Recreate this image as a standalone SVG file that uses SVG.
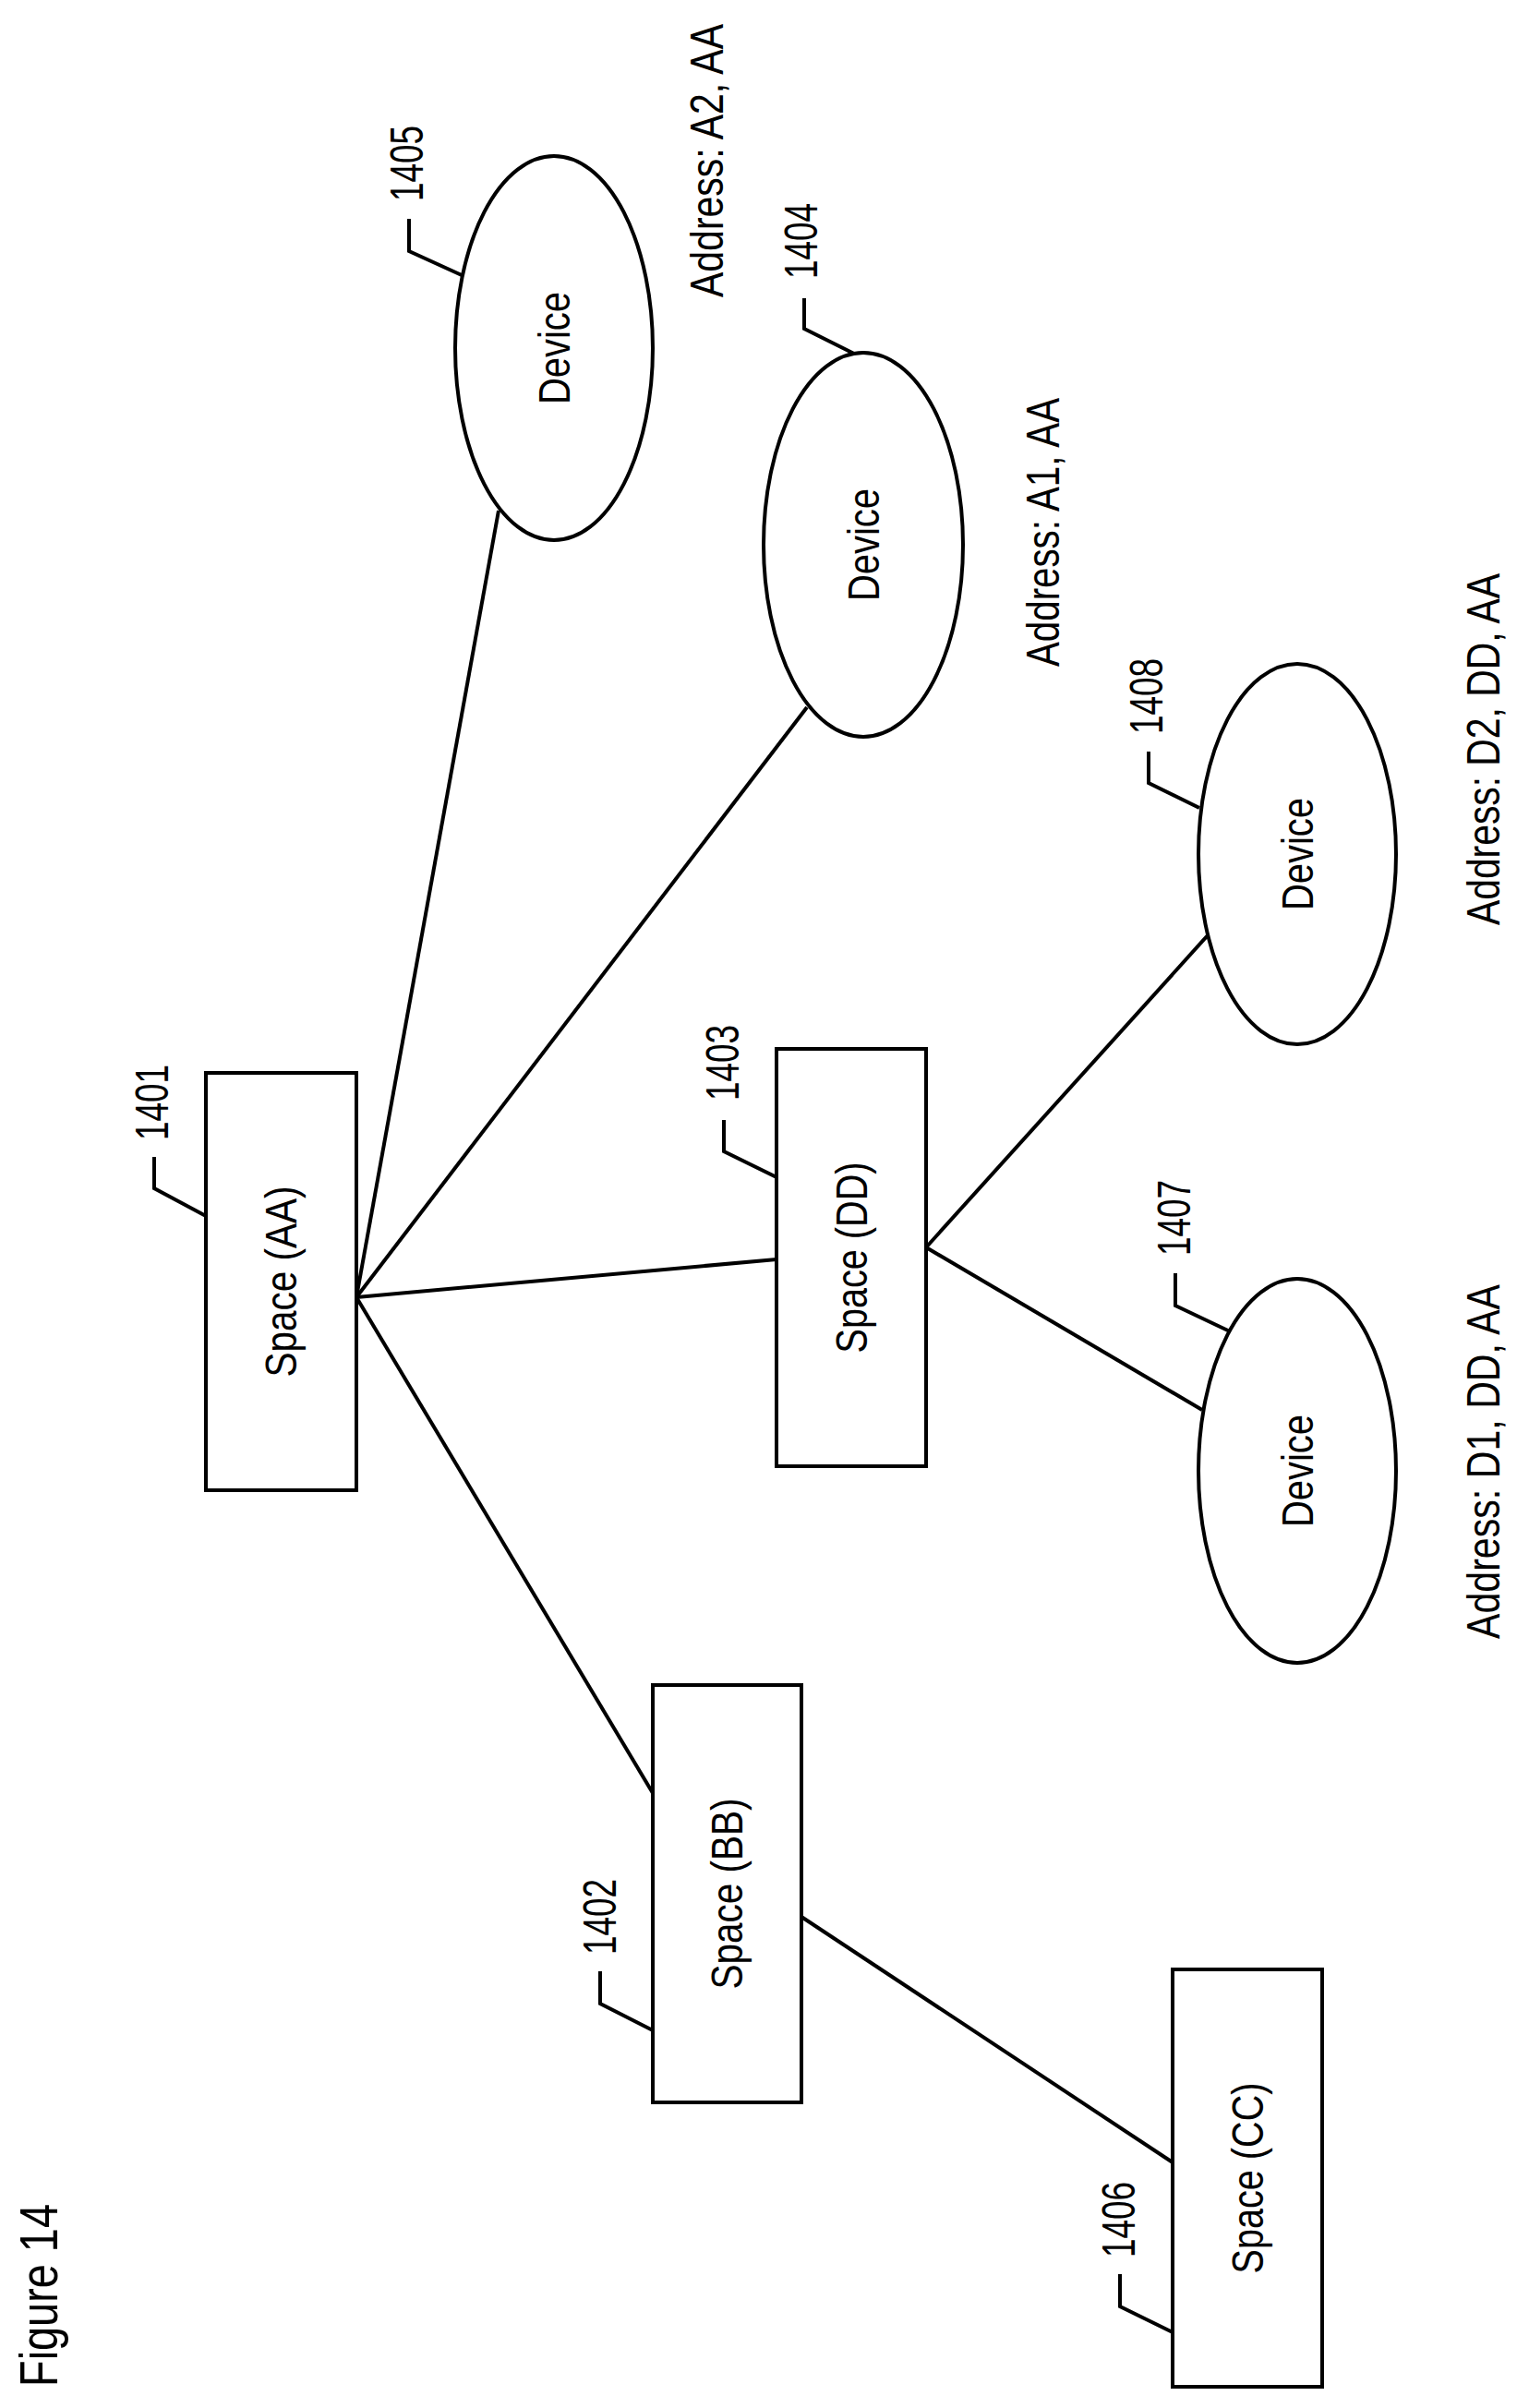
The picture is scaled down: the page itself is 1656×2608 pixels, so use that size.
<svg xmlns="http://www.w3.org/2000/svg" width="1656" height="2608" viewBox="0 0 1656 2608">
<style>
.n{fill:#fff;stroke:#000;stroke-width:4}
.c line,.c polyline{stroke:#000;stroke-width:4;fill:none}
text{font-family:"Liberation Sans",Arial,sans-serif;fill:#000}
.l{font-size:48px;text-anchor:middle}
.r{font-size:50px;text-anchor:end}
</style>
<rect width="1656" height="2608" fill="#fff"/>
<g class="c" id="connectors">
<line x1="386" y1="1405" x2="540" y2="553"/>
<line x1="386" y1="1405" x2="874" y2="766"/>
<line x1="386" y1="1405" x2="841" y2="1364"/>
<line x1="386" y1="1405" x2="707" y2="1942"/>
<line x1="868" y1="2076" x2="1270" y2="2342"/>
<line x1="1003" y1="1351" x2="1308" y2="1013"/>
<line x1="1003" y1="1351" x2="1302" y2="1527"/>
<polyline points="167,1253 167,1287 223,1317"/>
<polyline points="443,237 443,272 500,298"/>
<polyline points="871,323 871,356 927,384"/>
<polyline points="784,1213 784,1247 841,1275"/>
<polyline points="1244,814 1244,848 1299,875"/>
<polyline points="1273,1379 1273,1414 1332,1442"/>
<polyline points="650,2135 650,2170 707,2199"/>
<polyline points="1213,2463 1213,2498 1270,2526"/>
</g>
<g id="n1401"><rect class="n" x="223" y="1162" width="163" height="452"/><text class="l" transform="translate(304,1388) rotate(-90)" y="17" textLength="207" lengthAdjust="spacingAndGlyphs">Space (AA)</text><text class="r" transform="translate(182,1153) rotate(-90)" textLength="82" lengthAdjust="spacingAndGlyphs">1401</text></g>
<g id="n1402"><rect class="n" x="707" y="1825" width="161" height="452"/><text class="l" transform="translate(787,2051) rotate(-90)" y="17" textLength="207" lengthAdjust="spacingAndGlyphs">Space (BB)</text><text class="r" transform="translate(667,2035) rotate(-90)" textLength="82" lengthAdjust="spacingAndGlyphs">1402</text></g>
<g id="n1403"><rect class="n" x="841" y="1136" width="162" height="452"/><text class="l" transform="translate(922,1362) rotate(-90)" y="17" textLength="207" lengthAdjust="spacingAndGlyphs">Space (DD)</text><text class="r" transform="translate(800,1110) rotate(-90)" textLength="82" lengthAdjust="spacingAndGlyphs">1403</text></g>
<g id="n1406"><rect class="n" x="1270" y="2133" width="162" height="452"/><text class="l" transform="translate(1351,2359) rotate(-90)" y="17" textLength="207" lengthAdjust="spacingAndGlyphs">Space (CC)</text><text class="r" transform="translate(1229,2363) rotate(-90)" textLength="82" lengthAdjust="spacingAndGlyphs">1406</text></g>
<g id="n1405"><ellipse class="n" cx="600" cy="377" rx="107" ry="208"/><text class="l" transform="translate(600,377) rotate(-90)" y="17" textLength="122" lengthAdjust="spacingAndGlyphs">Device</text><text class="r" transform="translate(458,136) rotate(-90)" textLength="82" lengthAdjust="spacingAndGlyphs">1405</text></g>
<g id="n1404"><ellipse class="n" cx="935" cy="590" rx="108" ry="208"/><text class="l" transform="translate(935,590) rotate(-90)" y="17" textLength="122" lengthAdjust="spacingAndGlyphs">Device</text><text class="r" transform="translate(885,220) rotate(-90)" textLength="82" lengthAdjust="spacingAndGlyphs">1404</text></g>
<g id="n1408"><ellipse class="n" cx="1405" cy="925" rx="107" ry="206"/><text class="l" transform="translate(1405,925) rotate(-90)" y="17" textLength="122" lengthAdjust="spacingAndGlyphs">Device</text><text class="r" transform="translate(1259,713) rotate(-90)" textLength="82" lengthAdjust="spacingAndGlyphs">1408</text></g>
<g id="n1407"><ellipse class="n" cx="1405" cy="1593" rx="107" ry="208"/><text class="l" transform="translate(1405,1593) rotate(-90)" y="17" textLength="122" lengthAdjust="spacingAndGlyphs">Device</text><text class="r" transform="translate(1289,1278) rotate(-90)" textLength="82" lengthAdjust="spacingAndGlyphs">1407</text></g>
<g id="labels">
<text class="r" transform="translate(783,26) rotate(-90)" textLength="296" lengthAdjust="spacingAndGlyphs">Address: A2, AA</text>
<text class="r" transform="translate(1147,431) rotate(-90)" textLength="291" lengthAdjust="spacingAndGlyphs">Address: A1, AA</text>
<text class="r" transform="translate(1624,621) rotate(-90)" textLength="381" lengthAdjust="spacingAndGlyphs">Address: D2, DD, AA</text>
<text class="r" transform="translate(1624,1391) rotate(-90)" textLength="384" lengthAdjust="spacingAndGlyphs">Address: D1, DD, AA</text>
<text class="r" style="font-size:58px" transform="translate(62,2387) rotate(-90)" textLength="198" lengthAdjust="spacingAndGlyphs">Figure 14</text>
</g>
</svg>
